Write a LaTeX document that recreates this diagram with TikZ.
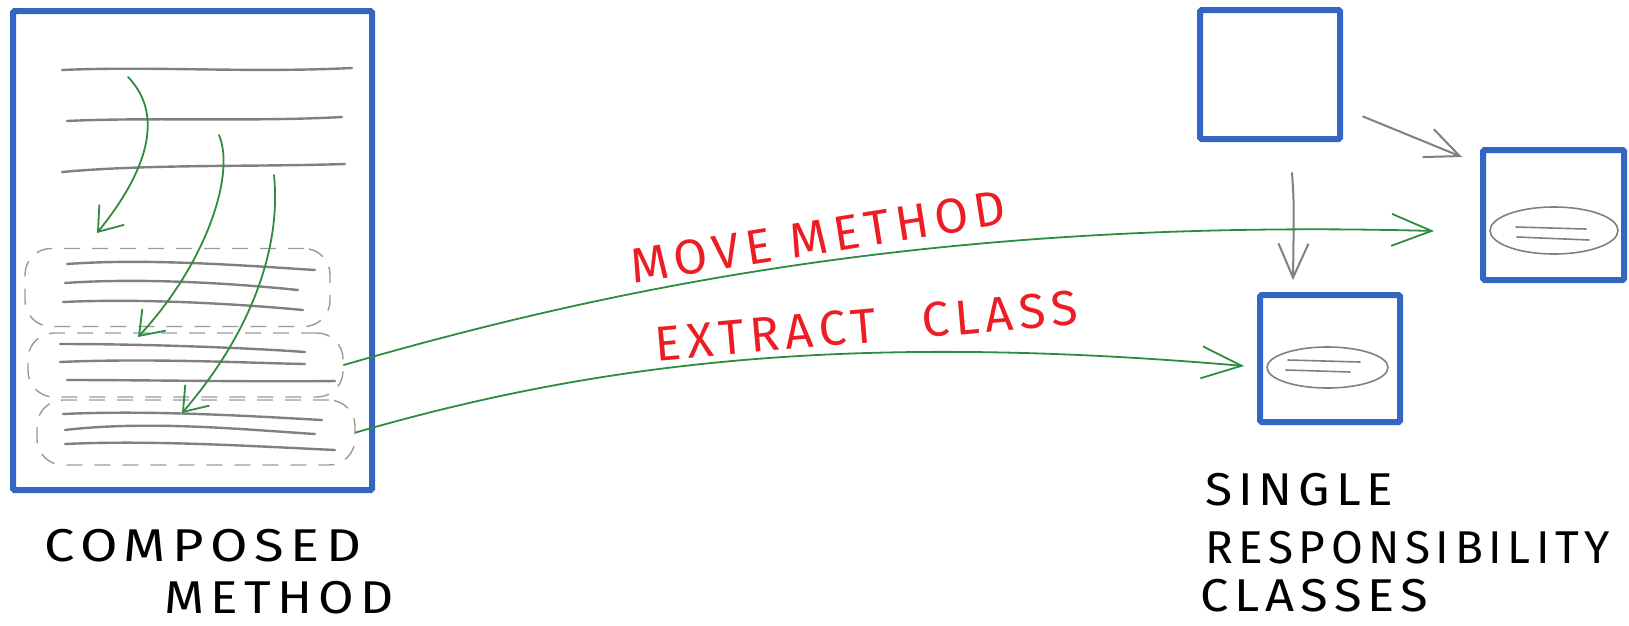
\documentclass[tikz,border=0pt]{standalone}
\usepackage{fontspec}
\usetikzlibrary{arrows.meta,shapes.geometric}
\newfontfamily\hand{Fira Sans}[LetterSpace=12]
\definecolor{boxblue}{RGB}{51,102,196}
\definecolor{sketchgreen}{RGB}{46,140,62}
\definecolor{sketchred}{RGB}{236,30,36}
\definecolor{sketchgray}{RGB}{128,128,128}
\tikzset{
  bluebox/.style={draw=boxblue, line width=6pt, rounded corners=1.5pt, inner sep=0pt},
  groupbox/.style={draw=sketchgray!80, line width=1.4pt, dash pattern=on 16pt off 12pt, rounded corners=26pt, inner sep=0pt},
  textline/.style={draw=sketchgray, line width=2.4pt, line cap=round},
  thinline/.style={draw=sketchgray, line width=1.6pt, line cap=round},
  greenarrow/.style={draw=sketchgreen, line width=1.8pt, line cap=round, -{Straight Barb[length=22pt,width=32pt,line width=1.8pt]}},
  bigarrow/.style={draw=sketchgreen, line width=1.8pt, line cap=round, -{Straight Barb[length=40pt,width=32pt,line width=1.8pt]}},
  grayarrow/.style={draw=sketchgray, line width=2pt, line cap=round, -{Straight Barb[length=34pt,width=30pt,line width=2pt]}},
  ovalbox/.style={draw=sketchgray, line width=1.6pt, ellipse, inner sep=0pt},
  redlabel/.style={text=sketchred, font=\hand\fontsize{49}{55}\selectfont, inner sep=0pt},
  blacklabel/.style={text=black, font=\hand\fontsize{46}{52}\selectfont, inner sep=0pt, align=left}
}
\begin{document}
\begin{tikzpicture}[x=1pt,y=-1pt]
\useasboundingbox (0,0) rectangle (1629,625);
% left: composed method
\node[bluebox, minimum width=359pt, minimum height=479pt] (cm) at (192.5,250.5) {};
% top code lines
\draw[textline] (62,70) .. controls (150,66) and (250,73) .. (352,68);
\draw[textline] (67,121) .. controls (150,117) and (250,122) .. (342,117);
\draw[textline] (62,172) .. controls (150,164) and (250,167) .. (345,164);
% groups
\node[groupbox, minimum width=305pt, minimum height=78pt] (g1) at (177.5,287.5) {};
\node[groupbox, minimum width=315pt, minimum height=64pt] (g2) at (185.5,365) {};
\node[groupbox, minimum width=318pt, minimum height=65pt] (g3) at (196,432.5) {};
\draw[textline] (67,264) .. controls (150,258) and (250,266) .. (315,270);
\draw[textline] (65,283) .. controls (150,277) and (250,285) .. (298,290);
\draw[textline] (63,302) .. controls (150,298) and (250,305) .. (303,310);
\draw[textline] (60,344) .. controls (150,344) and (250,348) .. (305,352);
\draw[textline] (60,362) .. controls (150,358) and (250,363) .. (305,364);
\draw[textline] (67,380) .. controls (150,380) and (250,382) .. (335,381);
\draw[textline] (63,414) .. controls (150,410) and (250,416) .. (322,420);
\draw[textline] (65,430) .. controls (150,420) and (250,430) .. (315,434);
\draw[textline] (65,444) .. controls (150,440) and (250,446) .. (335,450);
% internal green arrows
\coordinate (s1) at (128,77);
\coordinate (s2) at (219,135);
\coordinate (s3) at (274,175);
\coordinate (e1) at (97,233);
\coordinate (e2) at (138,337);
\coordinate (e3) at (182,413);
\draw[greenarrow] (s1) .. controls (162,112) and (152,165) .. (e1);
\draw[greenarrow] (s2) .. controls (236,175) and (205,265) .. (e2);
\draw[greenarrow] (s3) .. controls (282,255) and (245,340) .. (e3);
% right boxes
\node[bluebox, minimum width=140pt, minimum height=129pt] (ca) at (1270,74.5) {};
\node[bluebox, minimum width=141pt, minimum height=130pt] (cb) at (1553.5,215) {};
\node[bluebox, minimum width=140pt, minimum height=127pt] (cc) at (1330,358.5) {};
\node[ovalbox, minimum width=128pt, minimum height=47pt] (eb) at (1554,230.5) {};
\node[ovalbox, minimum width=121pt, minimum height=41pt] (ec) at (1327.5,367.5) {};
\draw[thinline] (1516,227) -- (1586,229);
\draw[thinline] (1517,237) -- (1589,240);
\draw[thinline] (1288,360) -- (1360,362);
\draw[thinline] (1286,370) -- (1350,372);
% gray arrows
\draw[grayarrow] ([shift={(20,42)}]ca.east) -- ([shift={(-18,10)}]cb.north west);
\draw[grayarrow] ([shift={(22,31)}]ca.south) .. controls ([shift={(24,60)}]ca.south) .. ([shift={(-37,-12)}]cc.north);
% move method / extract class
\coordinate (tb) at ([shift={(-46,16)}]cb.west);
\coordinate (tc) at ([shift={(-13,7.5)}]cc.west);
\draw[bigarrow] (g2.east) .. controls (620,285) and (950,218) .. (tb);
\draw[bigarrow] (g3.east) .. controls (600,362) and (850,332) .. (tc);
\node[redlabel, rotate=9] (mm) at (818,237) {MOVE METHOD};
\node[redlabel, rotate=5] (ec1) at (866,326) {EXTRACT\hspace{45pt}CLASS};
% labels
\node[blacklabel, anchor=west, xscale=1.18] (comp) at (44,546) {COMPOSED};
\node[blacklabel, anchor=west, xscale=1.12] (meth) at (164,598) {METHOD};
\node[blacklabel, anchor=west, xscale=1.08] (sing) at (1205,490) {SINGLE};
\node[blacklabel, anchor=west] (resp) at (1205,548) {RESPONSIBILITY};
\node[blacklabel, anchor=west, xscale=1.1] (clas) at (1200,596) {CLASSES};
\end{tikzpicture}
\end{document}
